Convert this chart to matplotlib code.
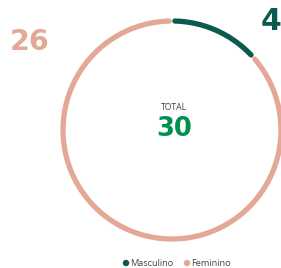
import numpy as np
import matplotlib.pyplot as plt

categories = ['Masculino', 'Feminino']
values = [4, 26]
colors = ['#0b5a50', '#e4a897']
total_label = 'TOTAL'

fig = plt.figure(figsize=(2.81, 2.68), dpi=100)
ax = fig.add_axes([0, 0, 1, 1])
ax.set_xlim(0, 281)
ax.set_ylim(268, 0)
ax.axis('off')

# ring geometry in pixels
cx, cy, r = 172, 130, 109
gap = 3.0  # degrees

total = sum(values)
start = 90.0
for val, col in zip(values, colors):
    sweep = val / total * 360
    a0 = start - gap / 2
    a1 = start - sweep + gap / 2
    ang = np.radians(np.linspace(a0, a1, 200))
    ax.plot(cx + r * np.cos(ang), cy - r * np.sin(ang), color=col, lw=3.8,
            solid_capstyle='round')
    start -= sweep

big = 'DejaVu Sans'
small = 'Open Sans'
ax.text(271.5, 21.5, str(values[0]), color=colors[0], fontsize=21.5, fontweight='bold',
        family=big, ha='center', va='center')
ax.text(29.5, 42.5, str(values[1]), color=colors[1], fontsize=20.5, fontweight='bold',
        family=big, ha='center', va='center')

ax.text(174, 107, total_label, color='#444444', fontsize=6.2, family=small,
        ha='center', va='center')
ax.text(174, 129, str(total), color='#009150', fontsize=18.5, fontweight='bold',
        family=big, ha='center', va='center')

# legend
lx = [126, 187]
for x, lab, col in zip(lx, categories, colors):
    ax.scatter([x], [263], s=22, color=col, edgecolors='none')
    ax.text(x + 4, 263, lab, color='#444444', fontsize=6.6, family=small,
            ha='left', va='center')

fig.savefig('out.png', dpi=100)
